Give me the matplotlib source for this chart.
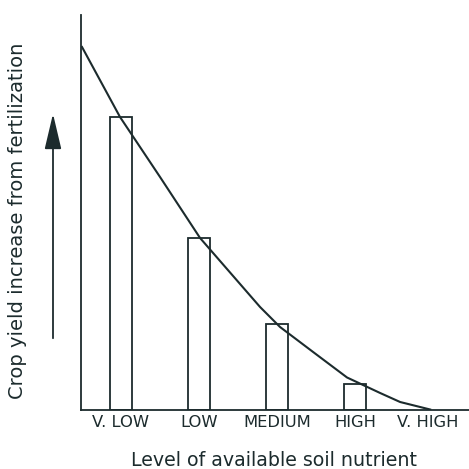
import matplotlib
matplotlib.use("Agg")
import matplotlib.pyplot as plt

plt.rcParams['font.family'] = ['DejaVu Sans']

categories = ["V. LOW", "LOW", "MEDIUM", "HIGH", "V. HIGH"]
bar_values = [292, 171, 86, 26]  # bars for first four categories

curve_x = [-0.5, -0.013, 0.5, 1.013, 1.782, 2.038, 2.462, 2.897, 3.321, 3.577, 3.962]
curve_y = [362.5, 292.5, 232.5, 171.5, 102.5, 82.5, 57.5, 32.0, 16.5, 7.5, 0]

dark = "#1c2b2d"

W, H = 469, 469
fig = plt.figure(figsize=(W / 100, H / 100), dpi=100)
ax = fig.add_axes([81 / W, (H - 409.5) / H, (W - 81) / W, 394.5 / H])

xs = list(range(len(categories)))
ax.bar(xs[:len(bar_values)], bar_values, width=0.29, facecolor="white",
       edgecolor=dark, linewidth=1.3, zorder=2)
ax.plot(curve_x, curve_y, color=dark, linewidth=1.5, zorder=3,
        solid_joinstyle="round")

ax.set_xlim(-0.513, 4.46)
ax.set_ylim(0, 394.5)
for s in ["top", "right"]:
    ax.spines[s].set_visible(False)
for s in ["left", "bottom"]:
    ax.spines[s].set_color(dark)
    ax.spines[s].set_linewidth(1.3)
ax.set_yticks([])
tick_pos = [x - (0.07 if i == len(xs) - 1 else 0) for i, x in enumerate(xs)]
ax.set_xticks(tick_pos)
ax.set_xticklabels(categories, fontsize=11.8, color=dark)
ax.tick_params(axis="x", length=0, pad=4)

fig.text(274 / W, 1 - 460 / H, "Level of available soil nutrient",
         ha="center", va="center", fontsize=13.7, color=dark)
fig.text(18 / W, 1 - 221 / H, "Crop yield increase from fertilization",
         ha="center", va="center", rotation=90, fontsize=14, color=dark)

fig.patches.append(matplotlib.patches.FancyArrowPatch(
    (53 / W, 1 - 341 / H), (53 / W, 1 - 111 / H), transform=fig.transFigure,
    arrowstyle="-|>,head_length=11,head_width=2.6", mutation_scale=2,
    color=dark, linewidth=1.3))

fig.savefig("out.png", dpi=100, facecolor="white")
